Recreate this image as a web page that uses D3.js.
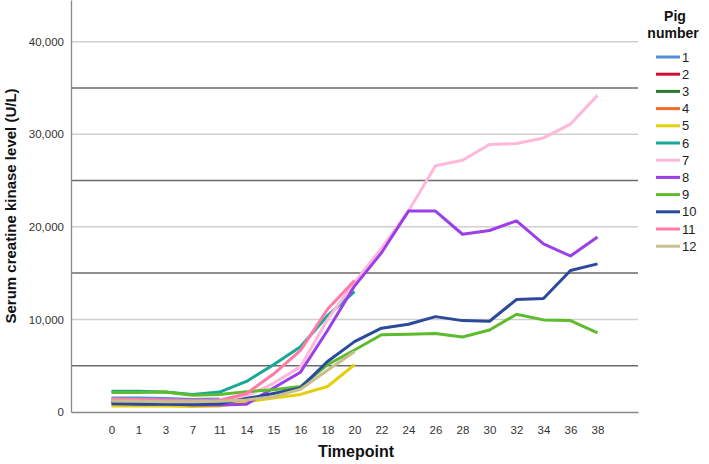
<!DOCTYPE html>
<html>
<head>
<meta charset="utf-8">
<script src="https://cdn.jsdelivr.net/npm/d3@7/dist/d3.min.js"></script>
<style>
html,body{margin:0;padding:0;background:#fff;}
svg{display:block;font-family:"Liberation Sans",Arial,sans-serif;}
</style>
</head>
<body>
<svg id="chart" width="709" height="464"></svg>
<script>
const categories = ["0","1","3","7","11","14","15","16","18","20","22","24","26","28","30","32","34","36","38"];
const yTicks = [0,10000,20000,30000,40000];
const darkGrid = [5000,15000,25000,35000];
const pigNames = ["1","2","3","4","5","6","7","8","9","10","11","12"];
const pigColors = ["#4f8fdc","#cc1030","#2a7a2a","#f26b2a","#e6cf0a","#17a898","#ffb8dc","#9b3fe8","#5dbb2e","#2b4a9c","#ff7aa6","#c8c08c"];

const pig1  = [1500,1500,1450,1350,1400];
const pig2  = [1100,1100,1050,1000,1050];
const pig3  = [1200,1150,1100,1050,1100];
const pig4  = [1300,1250,1200,1150,1200];
const pig5  = [650,650,650,600,650,1100,1500,1900,2750,5100];
const pig6  = [2250,2250,2150,1900,2150,3300,5100,7050,10400,13000];
const pig7  = [1300,1250,1200,1200,1300,1700,3100,4900,10000,14000,17700,21700,26600,27200,28900,29000,29600,31100,34200];
const pig8  = [1000,900,900,750,750,850,2600,4300,8800,13600,17200,21700,21700,19200,19600,20650,18150,16850,18900];
const pig9  = [2100,2100,2150,1800,1900,2200,2400,2750,5100,6700,8350,8400,8470,8100,8860,10550,9950,9870,8550];
const pig10 = [900,850,850,800,900,1450,2000,2600,5450,7600,9050,9480,10300,9870,9800,12150,12250,15280,16000];
const pig11 = [1400,1350,1300,1250,1250,2000,4100,6650,11100,14200];
const pig12 = [1200,1150,1100,1100,1150,1300,1650,2450,4500,6500];

const series = [pig1,pig2,pig3,pig4,pig5,pig6,pig7,pig8,pig9,pig10,pig11,pig12];

(function(){
const svg = d3.select("#chart");
const mLeft = 71, mRight = 638, mTop = 0, mBottom = 412;

const x = d3.scalePoint().domain(categories).range([mLeft, mRight]).padding(1.5);
const y = d3.scaleLinear().domain([0, 44500]).range([mBottom, mTop]);

// gridlines
svg.append("g").selectAll("line").data(yTicks.filter(d=>d>0)).join("line")
  .attr("x1", mLeft).attr("x2", mRight)
  .attr("y1", d=>y(d)).attr("y2", d=>y(d))
  .attr("stroke", "#cfcfcf").attr("stroke-width", 1.5);
svg.append("g").selectAll("line").data(darkGrid).join("line")
  .attr("x1", mLeft).attr("x2", mRight)
  .attr("y1", d=>y(d)).attr("y2", d=>y(d))
  .attr("stroke", "#6a6a6a").attr("stroke-width", 1.5);

// axes
const yAxis = d3.axisLeft(y).tickValues(yTicks).tickSize(0).tickPadding(7).tickFormat(d3.format(","));
const gy = svg.append("g").attr("transform", `translate(${mLeft},0)`).call(yAxis);
gy.select(".domain").attr("stroke", "#888").attr("stroke-width", 1.3);
gy.selectAll("text").attr("font-size", "11.5px").attr("fill", "#333").attr("font-family", "Liberation Sans, Arial, sans-serif");

const xAxis = d3.axisBottom(x).tickSize(0).tickPadding(14);
const gx = svg.append("g").attr("transform", `translate(0,${mBottom})`).call(xAxis);
gx.select(".domain").attr("stroke", "#888").attr("stroke-width", 1.3);
gx.selectAll("text").attr("font-size", "11.5px").attr("fill", "#333").attr("font-family", "Liberation Sans, Arial, sans-serif");

// axis titles
svg.append("text").attr("x", 356).attr("y", 457).attr("text-anchor", "middle")
  .attr("font-size", "16px").attr("font-weight", "bold").attr("fill", "#111").text("Timepoint");
svg.append("text").attr("transform", "translate(16,206) rotate(-90)").attr("text-anchor", "middle")
  .attr("font-size", "15px").attr("font-weight", "bold").attr("fill", "#111").text("Serum creatine kinase level (U/L)");

// lines
const line = d3.line().defined(d=>d.v!=null).x(d=>x(d.c)).y(d=>y(d.v));
series.forEach((s,i)=>{
  const pts = categories.map((c,j)=>({c:c, v: j < s.length ? s[j] : null}));
  svg.append("path").datum(pts).attr("d", line)
    .attr("fill","none").attr("stroke", pigColors[i]).attr("stroke-width", 3)
    .attr("stroke-linejoin","round");
});

// legend
const lg = svg.append("g");
lg.append("text").attr("x", 675).attr("y", 21).attr("text-anchor","middle")
  .attr("font-size","14px").attr("font-weight","bold").attr("fill","#111").text("Pig");
lg.append("text").attr("x", 673).attr("y", 38).attr("text-anchor","middle")
  .attr("font-size","14px").attr("font-weight","bold").attr("fill","#111").text("number");
const items = lg.selectAll("g.item").data(pigNames).join("g").attr("class","item")
  .attr("transform",(d,i)=>`translate(0,${57 + i*17.2})`);
items.append("line").attr("x1",656).attr("x2",680).attr("y1",0).attr("y2",0)
  .attr("stroke",(d,i)=>pigColors[i]).attr("stroke-width",3);
items.append("text").attr("x",682).attr("y",0).attr("dy","0.36em")
  .attr("font-size","13px").attr("fill","#222").text(d=>d);
})();
</script>
</body>
</html>
